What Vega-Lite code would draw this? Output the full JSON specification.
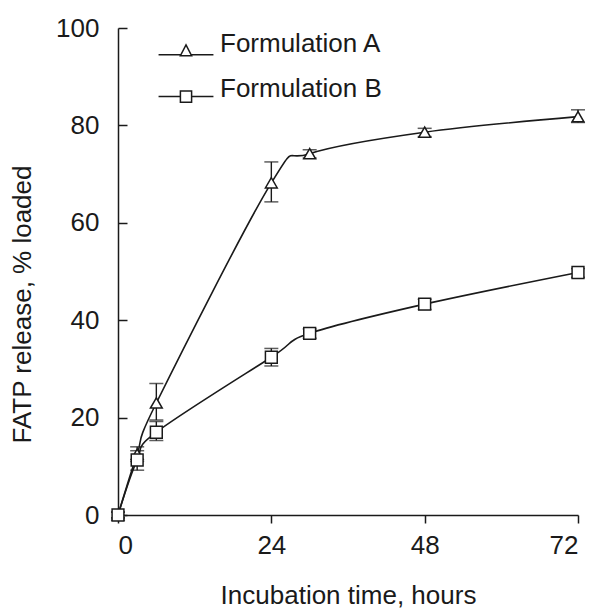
{
  "$schema": "https://vega.github.io/schema/vega-lite/v6.json",
  "autosize": {"type": "none"},
  "width": 460,
  "height": 487,
  "padding": {"left": 118, "top": 28, "right": 19, "bottom": 99},
  "background": "white",
  "config": {
    "view": {"stroke": null},
    "font": "Liberation Sans",
    "axis": {
      "domainColor": "#1a1a1a",
      "tickColor": "#1a1a1a",
      "labelColor": "#1a1a1a",
      "titleColor": "#1a1a1a",
      "labelFont": "Liberation Sans",
      "titleFont": "Liberation Sans",
      "labelFontSize": 26,
      "titleFontSize": 26,
      "titleFontWeight": "normal",
      "domainWidth": 1.5,
      "tickWidth": 1.5,
      "grid": false
    }
  },
  "data": {
    "values": [
      {"series": "Formulation A", "t": 0, "y": 0, "lo": -0.6, "hi": 0.6},
      {"series": "Formulation A", "t": 3, "y": 12.5, "lo": 11, "hi": 14},
      {"series": "Formulation A", "t": 6, "y": 23, "lo": 19.5, "hi": 27},
      {"series": "Formulation A", "t": 24, "y": 68.2, "lo": 64.3, "hi": 72.5},
      {"series": "Formulation A", "t": 30, "y": 74.2, "lo": 73.3, "hi": 75},
      {"series": "Formulation A", "t": 48, "y": 78.6, "lo": 77.7, "hi": 79.4},
      {"series": "Formulation A", "t": 72, "y": 81.8, "lo": 80.6, "hi": 83.2},
      {"series": "Formulation B", "t": 0, "y": 0, "lo": -0.6, "hi": 0.6},
      {"series": "Formulation B", "t": 3, "y": 11.3, "lo": 9.2, "hi": 13.2},
      {"series": "Formulation B", "t": 6, "y": 17, "lo": 15.3, "hi": 19.2},
      {"series": "Formulation B", "t": 24, "y": 32.4, "lo": 30.6, "hi": 34.2},
      {"series": "Formulation B", "t": 30, "y": 37.3, "lo": 36.3, "hi": 38.2},
      {"series": "Formulation B", "t": 48, "y": 43.3, "lo": 42.2, "hi": 44.3},
      {"series": "Formulation B", "t": 72, "y": 49.8, "lo": 48.8, "hi": 50.6}
    ]
  },
  "encoding": {
    "x": {
      "field": "t",
      "type": "quantitative",
      "scale": {"domain": [0, 72], "nice": false},
      "axis": {
        "values": [0, 24, 48, 72],
        "tickSize": 8,
        "labelPadding": 9,
        "title": "Incubation time, hours",
        "titlePadding": 24
      }
    }
  },
  "layer": [
    {
      "mark": {"type": "line", "interpolate": "cardinal", "tension": 0, "stroke": "#1a1a1a", "strokeWidth": 1.6},
      "encoding": {
        "y": {
          "field": "y",
          "type": "quantitative",
          "scale": {"domain": [0, 100], "nice": false},
          "axis": {
            "values": [0, 20, 40, 60, 80, 100],
            "tickSize": -9,
            "labelPadding": 28,
            "title": "FATP release, % loaded",
            "titleX": -96,
            "titleY": 276,
            "titleBaseline": "middle",
            "titleAlign": "center"
          }
        },
        "detail": {"field": "series"}
      }
    },
    {
      "mark": {"type": "rule", "stroke": "#1a1a1a", "strokeWidth": 1.4},
      "encoding": {
        "y": {"field": "lo", "type": "quantitative"},
        "y2": {"field": "hi"}
      }
    },
    {
      "mark": {"type": "tick", "orient": "horizontal", "size": 14, "thickness": 1.5, "color": "#1a1a1a"},
      "encoding": {"y": {"field": "lo", "type": "quantitative"}}
    },
    {
      "mark": {"type": "tick", "orient": "horizontal", "size": 14, "thickness": 1.5, "color": "#1a1a1a"},
      "encoding": {"y": {"field": "hi", "type": "quantitative"}}
    },
    {
      "mark": {"type": "point", "filled": true, "fill": "white", "stroke": "#1a1a1a", "strokeWidth": 1.5, "size": 140, "opacity": 1},
      "encoding": {
        "y": {"field": "y", "type": "quantitative"},
        "shape": {
          "field": "series",
          "type": "nominal",
          "scale": {"domain": ["Formulation A", "Formulation B"], "range": ["triangle-up", "square"]},
          "legend": null
        }
      }
    },
    {
      "mark": {"type": "point", "opacity": 0, "filled": false, "stroke": "#1a1a1a"},
      "encoding": {
        "y": {"field": "y", "type": "quantitative"},
        "shape": {
          "field": "series",
          "type": "nominal",
          "scale": {
            "domain": ["Formulation A", "Formulation B"],
            "range": [
              "M-1.96,0.77H-0.37M0.37,0.77H1.96M0,0.06L0.4,0.84L-0.4,0.84Z",
              "M-1.96,0.54H-0.4M0.4,0.54H1.96M-0.4,0.15H0.4V0.94H-0.4Z"
            ]
          },
          "legend": {
            "title": null,
            "orient": "none",
            "legendX": 53,
            "legendY": 1,
            "padding": 0,
            "symbolSize": 784,
            "symbolStrokeWidth": 1.5,
            "symbolStrokeColor": "#1a1a1a",
            "symbolFillColor": "white",
            "symbolOpacity": 1,
            "labelOffset": 19,
            "labelFont": "Liberation Sans",
            "labelFontSize": 26,
            "labelColor": "#1a1a1a",
            "rowPadding": 15,
            "labelLimit": 300
          }
        }
      }
    }
  ],
  "resolve": {"scale": {"shape": "independent"}}
}
